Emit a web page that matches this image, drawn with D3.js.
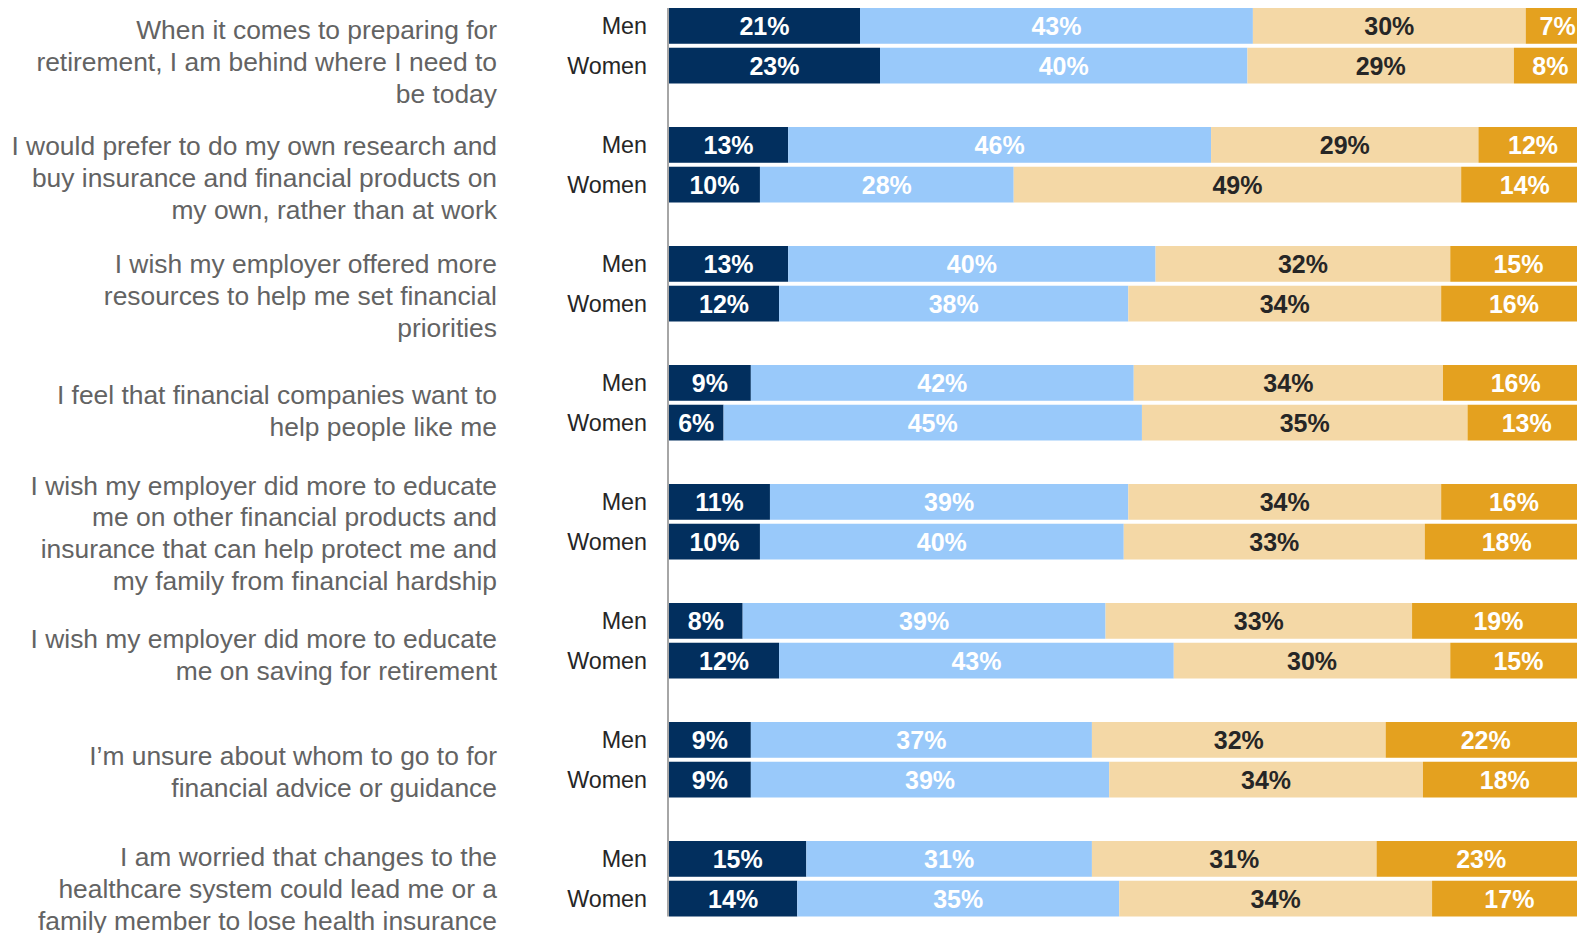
<!DOCTYPE html>
<html>
<head>
<meta charset="utf-8">
<script src="https://cdn.jsdelivr.net/npm/d3@7"></script>
<style>
  body { margin: 0; background: #fff; }
  svg { display: block; font-family: "Liberation Sans", Arial, sans-serif; }
</style>
</head>
<body>
<div id="chart"></div>
<script>
const width = 1577, height = 933;

// statements, one per group (already broken into lines as in the slide)
var questions = [
    ["When it comes to preparing for", "retirement, I am behind where I need to", "be today"],
    ["I would prefer to do my own research and", "buy insurance and financial products on", "my own, rather than at work"],
    ["I wish my employer offered more", "resources to help me set financial", "priorities"],
    ["I feel that financial companies want to", "help people like me"],
    ["I wish my employer did more to educate", "me on other financial products and", "insurance that can help protect me and", "my family from financial hardship"],
    ["I wish my employer did more to educate", "me on saving for retirement"],
    ["I\u2019m unsure about whom to go to for", "financial advice or guidance"],
    ["I am worried that changes to the", "healthcare system could lead me or a", "family member to lose health insurance"]
];
var genders = ["Men", "Women"];
var levels = ["Strongly agree", "Somewhat agree", "Somewhat disagree", "Strongly disagree"];

// percentages printed on the bars, one row per question, in the order of levels
var menLabels = [
    [21, 43, 30, 7],
    [13, 46, 29, 12],
    [13, 40, 32, 15],
    [9, 42, 34, 16],
    [11, 39, 34, 16],
    [8, 39, 33, 19],
    [9, 37, 32, 22],
    [15, 31, 31, 23]
];
var womenLabels = [
    [23, 40, 29, 8],
    [10, 28, 49, 14],
    [12, 38, 34, 16],
    [6, 45, 35, 13],
    [10, 40, 33, 18],
    [12, 43, 30, 15],
    [9, 39, 34, 18],
    [14, 35, 34, 17]
];

// unrounded segment lengths as drawn
var menShares = [
    [21.0, 43.2, 30.0, 7],
    [13.1, 46.5, 29.4, 12],
    [13.1, 40.4, 32.4, 15],
    [9.0, 42.1, 34.0, 16],
    [11.1, 39.4, 34.4, 16],
    [8.1, 39.9, 33.7, 19],
    [9.0, 37.5, 32.3, 22],
    [15.1, 31.4, 31.3, 23]
];
var womenShares = [
    [23.2, 40.4, 29.3, 8],
    [10.0, 27.9, 49.2, 14],
    [12.1, 38.4, 34.4, 16],
    [6.0, 46.0, 35.8, 13],
    [10.0, 40.0, 33.1, 18],
    [12.1, 43.4, 30.4, 15],
    [9.0, 39.4, 34.5, 18],
    [14.1, 35.4, 34.4, 17]
];

var colors = ["#022f5e", "#99c9fa", "#f4d8a6", "#e4a11f"];
var labelColors = ["#ffffff", "#ffffff", "#262626", "#ffffff"];

// small per-statement vertical nudges of the text blocks (layout only)
var textNudge = [4, 1, 0, -4, -1, 2, 0, -2];

let svg = d3.select("#chart")
    .append("svg")
    .attr("width", width)
    .attr("height", height);

let x = d3.scaleLinear()
    .domain([0, 100])
    .range([669, 1578.5]);

let qIndex = questions.map(function(d, i) { return i; });

let y0 = d3.scaleBand()
    .domain(qIndex)
    .range([8, 8 + 119 * questions.length]);

let y1 = d3.scaleBand()
    .domain(genders)
    .range([0, 75.5])
    .paddingInner(0.1);

// flatten into bar rows with cumulative start positions
let rows = [];
qIndex.forEach(function(q) {
    [[menShares[q], menLabels[q]], [womenShares[q], womenLabels[q]]].forEach(function(pair, g) {
        let start = 0;
        pair[0].forEach(function(v, k) {
            rows.push({q: q, gender: genders[g], level: k, start: start, value: v, label: pair[1][k]});
            start += v;
        });
    });
});

let groups = svg.append("g");

groups.selectAll("rect")
    .data(rows)
    .enter()
    .append("rect")
    .attr("x", function(d) { return x(d.start); })
    .attr("y", function(d) { return y0(d.q) + y1(d.gender); })
    .attr("width", function(d) { return x(d.start + d.value) - x(d.start); })
    .attr("height", y1.bandwidth())
    .attr("fill", function(d) { return colors[d.level]; });

groups.selectAll("text.val")
    .data(rows)
    .enter()
    .append("text")
    .attr("class", "val")
    .attr("x", function(d) { return x(d.start + d.value / 2); })
    .attr("y", function(d) { return y0(d.q) + y1(d.gender) + y1.bandwidth() / 2; })
    .attr("dy", "0.36em")
    .style("text-anchor", "middle")
    .style("font-size", "25px")
    .style("font-weight", "bold")
    .style("fill", function(d) { return labelColors[d.level]; })
    .text(function(d) { return d.label + "%"; });

// Men / Women labels
qIndex.forEach(function(q) {
    svg.append("g").selectAll("text")
        .data(genders)
        .enter()
        .append("text")
        .attr("x", 647)
        .attr("y", function(g) { return y0(q) + y1(g) + y1.bandwidth() / 2; })
        .attr("dy", "0.36em")
        .style("text-anchor", "end")
        .style("font-size", "23.3px")
        .style("fill", "#262626")
        .text(function(g) { return g; });
});

// question labels, block centred a little below the pair of bars
let lineHeight = 31.8;
qIndex.forEach(function(q) {
    let lines = questions[q];
    let center = y0(q) + 75.5 / 2 + 12 + textNudge[q];
    svg.append("g").selectAll("text")
        .data(lines)
        .enter()
        .append("text")
        .attr("x", 497)
        .attr("y", function(d, i) { return center + (i - (lines.length - 1) / 2) * lineHeight; })
        .attr("dy", "0.36em")
        .style("text-anchor", "end")
        .style("font-size", "26.4px")
        .style("fill", "#636363")
        .text(function(d) { return d; });
});

// vertical axis line
svg.append("line")
    .attr("x1", x(0) - 1)
    .attr("x2", x(0) - 1)
    .attr("y1", y0.range()[0])
    .attr("y2", y0(questions.length - 1) + y1("Women") + y1.bandwidth())
    .style("stroke", "#a6a6a6")
    .style("stroke-width", 2);
</script>
</body>
</html>
